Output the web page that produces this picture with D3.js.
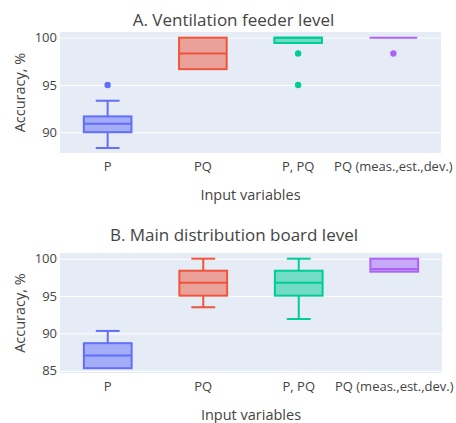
<!DOCTYPE html>
<html>
<head>
<meta charset="utf-8">
<script src="https://cdn.jsdelivr.net/npm/d3@7"></script>
<style>
  body { margin: 0; background: #fff; }
  text { font-family: "Open Sans", "DejaVu Sans", sans-serif; }
</style>
</head>
<body>
<div id="chart"></div>
<script>
// categories (x axis)
let categories = ["P", "PQ", "P, PQ", "PQ (meas.,est.,dev.)"];
let colors = ["#636efa", "#ef553b", "#00cc96", "#ab63fa"];

// panel A box stats
let aLow = [88.33, 96.67, 99.44, 100];
let aQ1 = [90, 96.67, 99.44, 100];
let aMed = [90.9, 98.33, 100, 100];
let aQ3 = [91.67, 100, 100, 100];
let aHigh = [93.33, 100, 100, 100];
let aOutliers = [[95], [], [98.33, 95], [98.33]];
let aTicks = [90, 95, 100];

// panel B box stats
let bLow = [85.34, 93.5, 91.93, 98.26];
let bQ1 = [85.34, 95.05, 95.05, 98.26];
let bMed = [87.05, 96.79, 96.79, 98.62];
let bQ3 = [88.69, 98.39, 98.39, 100];
let bHigh = [90.33, 100, 100, 100];
let bOutliers = [[], [], [], []];
let bTicks = [85, 90, 95, 100];

let width = 456, height = 423;

let svg = d3.select("#chart").append("svg")
  .attr("width", width)
  .attr("height", height);

function panel(opts) {
  let rows = categories.map((c, i) => ({
    cat: c, color: colors[i],
    low: opts.low[i], q1: opts.q1[i], med: opts.med[i],
    q3: opts.q3[i], high: opts.high[i], out: opts.out[i]
  }));

  let x = d3.scaleBand().domain(categories).range([opts.x0, opts.x1]);
  let y = d3.scaleLinear().domain(opts.domain).range([opts.y1, opts.y0]);
  let bw = x.bandwidth() * 0.5;

  let g = svg.append("g");

  g.append("rect")
    .attr("x", opts.x0).attr("y", opts.y0)
    .attr("width", opts.x1 - opts.x0).attr("height", opts.y1 - opts.y0)
    .attr("fill", "#e5ecf6");

  // grid + y tick labels
  let yAxis = d3.axisLeft(y).tickValues(opts.ticks)
    .tickSize(-(opts.x1 - opts.x0)).tickPadding(3);
  let ya = g.append("g")
    .attr("transform", "translate(" + opts.x0 + ",0)")
    .call(yAxis);
  ya.select(".domain").remove();
  ya.selectAll(".tick line").attr("stroke", "#fff").attr("stroke-width", 1);
  ya.selectAll(".tick text").attr("fill", "#444").attr("font-size", 13);

  let xAxis = d3.axisBottom(x).tickSize(0).tickPadding(9);
  let xa = g.append("g")
    .attr("transform", "translate(0," + opts.y1 + ")")
    .call(xAxis);
  xa.select(".domain").remove();
  xa.selectAll(".tick text").attr("fill", "#444").attr("font-size", 13);

  let boxes = g.selectAll(".box").data(rows).enter().append("g");
  let cx = d => x(d.cat) + x.bandwidth() / 2;

  // whiskers
  boxes.append("line")
    .attr("x1", cx).attr("x2", cx)
    .attr("y1", d => y(d.high)).attr("y2", d => y(d.q3))
    .attr("stroke", d => d.color).attr("stroke-width", 2);
  boxes.append("line")
    .attr("x1", cx).attr("x2", cx)
    .attr("y1", d => y(d.q1)).attr("y2", d => y(d.low))
    .attr("stroke", d => d.color).attr("stroke-width", 2);
  boxes.filter(d => d.high > d.q3).append("line")
    .attr("x1", d => cx(d) - bw / 4).attr("x2", d => cx(d) + bw / 4)
    .attr("y1", d => y(d.high)).attr("y2", d => y(d.high))
    .attr("stroke", d => d.color).attr("stroke-width", 2);
  boxes.filter(d => d.low < d.q1).append("line")
    .attr("x1", d => cx(d) - bw / 4).attr("x2", d => cx(d) + bw / 4)
    .attr("y1", d => y(d.low)).attr("y2", d => y(d.low))
    .attr("stroke", d => d.color).attr("stroke-width", 2);

  // box
  boxes.append("rect")
    .attr("x", d => cx(d) - bw / 2)
    .attr("y", d => y(d.q3))
    .attr("width", bw)
    .attr("height", d => y(d.q1) - y(d.q3))
    .attr("fill", d => d.color).attr("fill-opacity", 0.5)
    .attr("stroke", d => d.color).attr("stroke-width", 2);
  boxes.append("line")
    .attr("x1", d => cx(d) - bw / 2).attr("x2", d => cx(d) + bw / 2)
    .attr("y1", d => y(d.med)).attr("y2", d => y(d.med))
    .attr("stroke", d => d.color).attr("stroke-width", 2);

  // outliers
  boxes.selectAll("circle").data(d => d.out.map(v => ({ v: v, d: d })))
    .enter().append("circle")
    .attr("cx", o => cx(o.d))
    .attr("cy", o => y(o.v))
    .attr("r", 3.2)
    .attr("fill", o => o.d.color);

  // titles
  g.append("text")
    .attr("x", (opts.x0 + opts.x1) / 2 - 17)
    .attr("y", opts.titleY)
    .attr("text-anchor", "middle")
    .attr("font-size", 17)
    .attr("fill", "#444")
    .text(opts.title);

  g.append("text")
    .attr("x", (opts.x0 + opts.x1) / 2)
    .attr("y", opts.xTitleY)
    .attr("text-anchor", "middle")
    .attr("font-size", 14.5)
    .attr("fill", "#444")
    .text("Input variables");

  g.append("text")
    .attr("transform", "translate(25," + (opts.y0 + opts.y1) / 2 + ") rotate(-90)")
    .attr("text-anchor", "middle")
    .attr("font-size", 14.5)
    .attr("fill", "#444")
    .text("Accuracy, %");
}

panel({
  title: "A. Ventilation feeder level",
  x0: 60, x1: 441, y0: 32, y1: 153, domain: [87.8, 100.6],
  titleY: 26, xTitleY: 200,
  ticks: aTicks,
  low: aLow, q1: aQ1, med: aMed, q3: aQ3, high: aHigh, out: aOutliers
});

panel({
  title: "B. Main distribution board level",
  x0: 60, x1: 442, y0: 253, y1: 373, domain: [84.7, 100.76],
  titleY: 241, xTitleY: 420,
  ticks: bTicks,
  low: bLow, q1: bQ1, med: bMed, q3: bQ3, high: bHigh, out: bOutliers
});
</script>
</body>
</html>
